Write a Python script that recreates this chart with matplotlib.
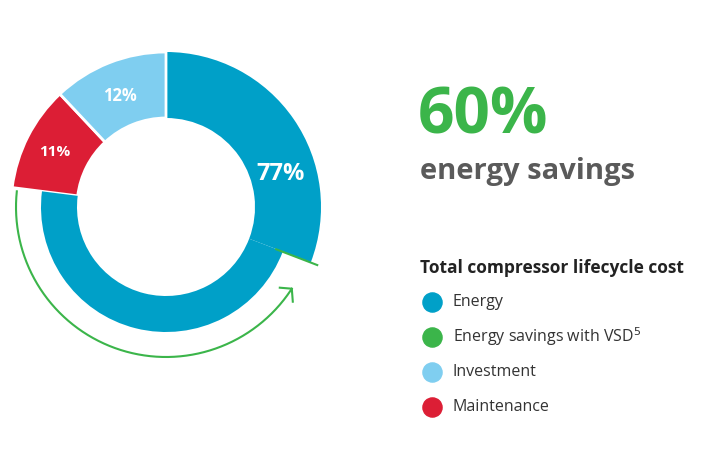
import matplotlib
matplotlib.use("Agg")
import matplotlib.pyplot as plt
import numpy as np

shares = [77, 11, 12]          # energy, maintenance, investment
labels = ["77%", "11%", "12%"]
savings_share = 46.2           # 60% of the energy share, drawn with smaller radius
legend_items = ["Energy", "Energy savings with VSD$^{5}$", "Investment", "Maintenance"]
legend_colors = ["#00a0c8", "#3bb54a", "#7fcef0", "#dc1e35"]
BLUE, GREEN, LBLUE, RED = "#00a0c8", "#3bb54a", "#7fcef0", "#dc1e35"

plt.rcParams['font.family'] = ['Open Sans', 'DejaVu Sans']
fig = plt.figure(figsize=(7.08, 4.65), dpi=100)
ax = fig.add_axes([0, 0, 1, 1])

cx, cy = 166, 465 - 207
R_out, R_small, R_in = 155, 125, 89
top_part = shares[0] - savings_share
vals = [top_part, savings_share, shares[1], shares[2]]
w1, _ = ax.pie(vals, radius=R_out, center=(cx, cy), startangle=90, counterclock=False,
               colors=[BLUE, "none", RED, LBLUE],
               wedgeprops=dict(width=R_out - R_in, edgecolor="white", linewidth=2), frame=True)
w1[0].set_edgecolor("none")
w1[1].set_edgecolor("none")
ax.pie(vals, radius=R_small, center=(cx, cy), startangle=90, counterclock=False,
       colors=["none", BLUE, "none", "none"],
       wedgeprops=dict(width=R_small - R_in, linewidth=0), frame=True)
ax.set_xlim(0, 708); ax.set_ylim(0, 465); ax.set_aspect('equal'); ax.axis('off')

ax.text(281, 465 - 174, labels[0], color="white", fontsize=17, fontweight="bold", ha="center", va="center")
ax.text(55, 465 - 152, labels[1], color="white", fontsize=11, fontweight="bold", ha="center", va="center")
ax.text(120, 465 - 96, labels[2], color="white", fontsize=12, fontweight="bold", ha="center", va="center")

th = np.radians(np.linspace(174, 327, 200))
ra = 150
ax.plot(cx + ra*np.cos(th), cy + ra*np.sin(th), color=GREEN, lw=1.5)
ex, ey = cx + ra*np.cos(th[-1]), cy + ra*np.sin(th[-1])
ax.plot([ex - 12, ex, ex + 1], [ey + 1, ey, ey - 13], color=GREEN, lw=1.5)
a = np.radians(-21)
ax.plot([cx + 118*np.cos(a), cx + 162*np.cos(a)], [cy + 118*np.sin(a), cy + 162*np.sin(a)], color=GREEN, lw=1.5)

ax.text(418, 465 - 117, "60%", color=GREEN, fontsize=46, fontweight="bold", va="center", ha="left")
ax.text(420, 465 - 172, "energy savings", color="#5a5a5a", fontsize=21, fontweight="bold", va="center", ha="left")
ax.text(420, 465 - 268, "Total compressor lifecycle cost", color="#222222", fontsize=12.5, fontweight="bold", va="center")
for i, (t, c) in enumerate(zip(legend_items, legend_colors)):
    y = 465 - (302 + i*35)
    ax.scatter([432], [y], s=190, color=c, zorder=3)
    ax.text(453, y, t, color="#333333", fontsize=11.5, va="center")

fig.savefig("out.png", dpi=100)
